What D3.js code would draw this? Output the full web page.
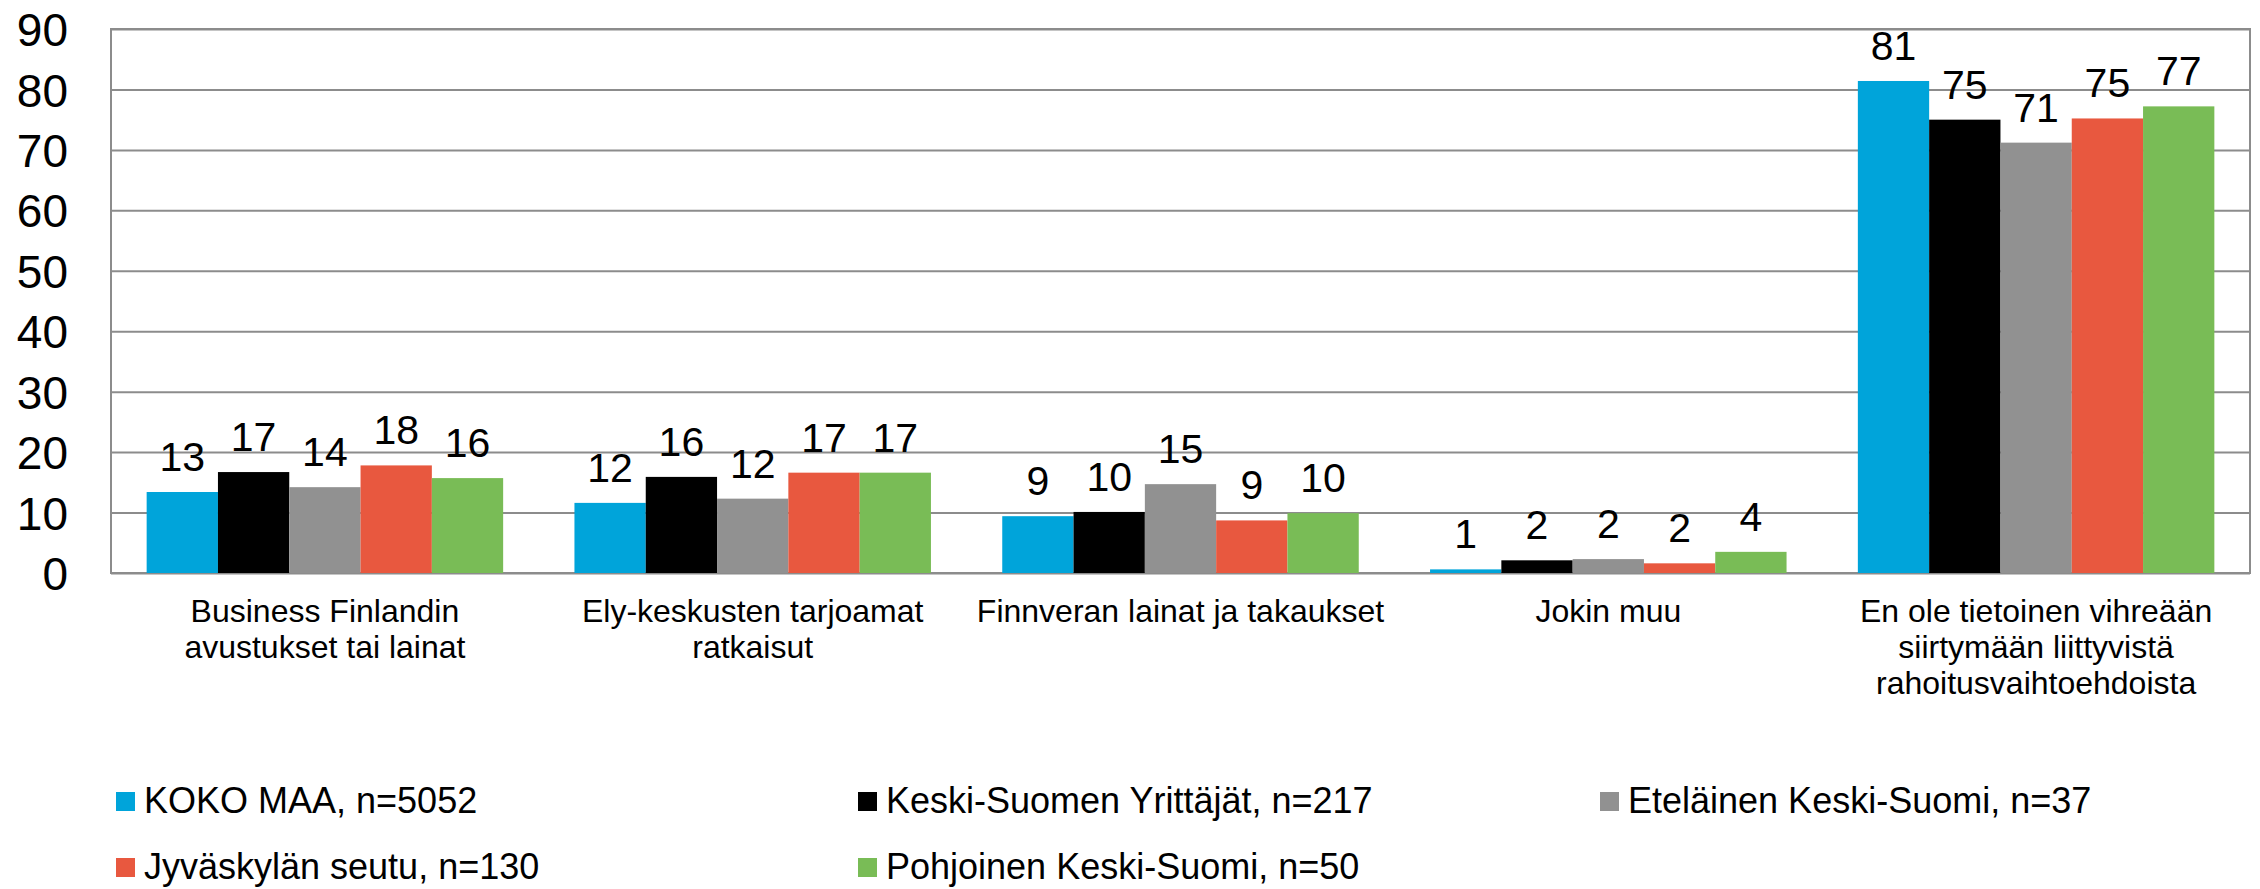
<!DOCTYPE html>
<html>
<head>
<meta charset="utf-8">
<script src="https://cdn.jsdelivr.net/npm/d3@7"></script>
<style>
  body { margin: 0; background: #fff; }
  svg text { font-family: "Liberation Sans", Arial, sans-serif; fill: #000; }
</style>
</head>
<body>
<svg id="chart" width="2260" height="889"></svg>
<script>
// categories (line breaks as in the original chart)
var categories = [
  "Business Finlandin\navustukset tai lainat",
  "Ely-keskusten tarjoamat\nratkaisut",
  "Finnveran lainat ja takaukset",
  "Jokin muu",
  "En ole tietoinen vihreään\nsiirtymään liittyvistä\nrahoitusvaihtoehdoista"
];

var seriesNames = [
  "KOKO MAA, n=5052",
  "Keski-Suomen Yrittäjät, n=217",
  "Eteläinen Keski-Suomi, n=37",
  "Jyväskylän seutu, n=130",
  "Pohjoinen Keski-Suomi, n=50"
];

var seriesColors = ["#00a4da", "#000000", "#919191", "#e8583f", "#79bc56"];

// one array per series, one value per category
var kokoMaa      = [13.4, 11.6, 9.4, 0.6, 81.4];
var keskiSuomi   = [16.7, 15.9, 10.1, 2.1, 75.0];
var etelainen    = [14.2, 12.3, 14.7, 2.3, 71.2];
var jyvaskyla    = [17.8, 16.6, 8.7, 1.6, 75.2];
var pohjoinen    = [15.7, 16.6, 9.9, 3.5, 77.2];

var yTicks = [0, 10, 20, 30, 40, 50, 60, 70, 80, 90];

var values = [kokoMaa, keskiSuomi, etelainen, jyvaskyla, pohjoinen];

var margin = {top: 29, right: 10, bottom: 316, left: 111};
var width = 2260 - margin.left - margin.right,
    height = 889 - margin.top - margin.bottom;

var svg = d3.select("#chart");
var g = svg.append("g").attr("transform", "translate(" + margin.left + "," + margin.top + ")");

var x0 = d3.scaleBand().domain(d3.range(categories.length)).range([0, width]);
var bw = x0.bandwidth();
var x1 = d3.scaleBand().domain(d3.range(seriesNames.length)).range([bw / 12, bw * 11 / 12]);
var y = d3.scaleLinear().domain([0, 90]).range([height, 0]);

// y axis with gridlines
var yAxis = g.append("g")
  .call(d3.axisLeft(y).tickValues(yTicks).tickSize(-width).tickPadding(43));
yAxis.select(".domain").remove();
yAxis.selectAll(".tick line").attr("stroke", "#8c8c8c").attr("stroke-width", 2);
yAxis.selectAll(".tick text").style("font-size", "46px").attr("dy", "0.36em");

// plot frame
g.append("rect")
  .attr("width", width).attr("height", height)
  .attr("fill", "none").attr("stroke", "#8c8c8c").attr("stroke-width", 2);

// bars
var groups = g.selectAll(".cat")
  .data(categories)
  .enter().append("g")
  .attr("transform", function(d, i) { return "translate(" + x0(i) + ",0)"; });

groups.selectAll("rect")
  .data(function(d, i) { return values.map(function(s, j) { return {s: j, v: s[i]}; }); })
  .enter().append("rect")
  .attr("x", function(d) { return x1(d.s); })
  .attr("width", x1.bandwidth())
  .attr("y", function(d) { return y(d.v); })
  .attr("height", function(d) { return y(0) - y(d.v); })
  .attr("fill", function(d) { return seriesColors[d.s]; });

// value labels
groups.selectAll(".lbl")
  .data(function(d, i) { return values.map(function(s, j) { return {s: j, v: s[i]}; }); })
  .enter().append("text")
  .attr("class", "lbl")
  .attr("x", function(d) { return x1(d.s) + x1.bandwidth() / 2; })
  .attr("y", function(d) { return y(d.v) - 21; })
  .attr("text-anchor", "middle")
  .style("font-size", "41px")
  .text(function(d) { return Math.round(d.v); });

// category labels
var catText = g.selectAll(".catlbl")
  .data(categories)
  .enter().append("text")
  .attr("class", "catlbl")
  .attr("text-anchor", "middle")
  .attr("transform", function(d, i) { return "translate(" + (x0(i) + bw / 2) + "," + (height + 49) + ")"; })
  .style("font-size", "32px");

catText.selectAll("tspan")
  .data(function(d) { return d.split("\n"); })
  .enter().append("tspan")
  .attr("x", 0)
  .attr("y", function(d, i) { return i * 36; })
  .text(function(d) { return d; });

// legend
var legendX = [116, 858, 1600];
var legendY = [813, 879];
var legend = svg.selectAll(".leg")
  .data(seriesNames)
  .enter().append("g")
  .attr("transform", function(d, i) {
    return "translate(" + legendX[i % 3] + "," + legendY[Math.floor(i / 3)] + ")";
  });

legend.append("rect")
  .attr("y", -21).attr("width", 19).attr("height", 19)
  .attr("fill", function(d, i) { return seriesColors[i]; });

legend.append("text")
  .attr("x", 28)
  .style("font-size", "36px")
  .text(function(d) { return d; });
</script>
</body>
</html>
